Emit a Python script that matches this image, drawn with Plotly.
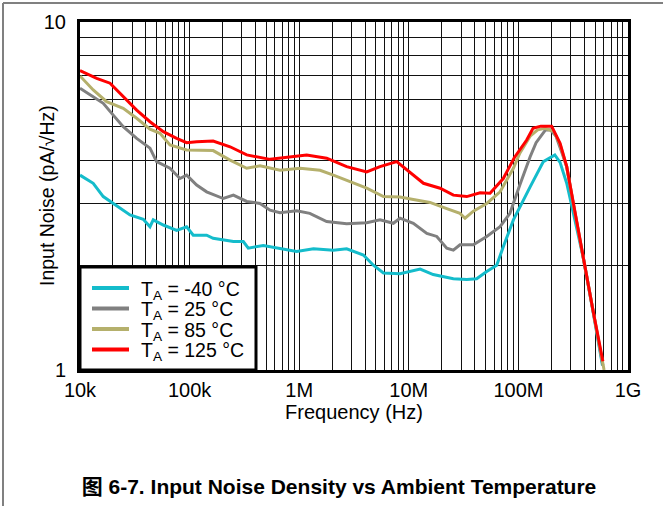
import plotly.graph_objects as go

# Input noise density vs frequency at four ambient temperatures
freq_m40 = [1.0e4, 1.32e4, 1.63e4, 2.01e4, 2.86e4, 3.78e4, 4.35e4, 4.66e4, 5.76e4, 7.62e4,
            9.4e4, 1.08e5, 1.43e5, 1.64e5, 2.51e5, 3.09e5, 3.43e5, 4.71e5, 6.68e5, 9.48e5,
            1.35e6, 2.05e6, 2.71e6, 3.85e6, 4.75e6, 5.87e6, 8.32e6, 1.27e7, 1.67e7, 2.55e7,
            3.38e7, 4.16e7, 5.14e7, 6.34e7, 7.28e7, 9.0e7, 1.28e8, 1.69e8, 2.15e8, 2.4e8,
            2.76e8, 3.4e8, 3.91e8, 4.8e8, 5.85e8]
noise_m40 = [3.63, 3.44, 3.15, 3.01, 2.79, 2.71, 2.58, 2.70, 2.61, 2.52,
             2.58, 2.44, 2.44, 2.39, 2.34, 2.34, 2.24, 2.28, 2.24, 2.19,
             2.23, 2.21, 2.23, 2.14, 2.00, 1.90, 1.89, 1.95, 1.88, 1.83,
             1.82, 1.83, 1.92, 2.00, 2.26, 2.70, 3.36, 3.97, 4.15, 3.95,
             3.44, 2.58, 2.10, 1.47, 1.03]

freq_25 = [1.0e4, 1.32e4, 1.63e4, 2.01e4, 2.48e4, 3.29e4, 4.35e4, 5.0e4, 6.62e4, 8.17e4,
           9.4e4, 1.16e5, 1.43e5, 2.03e5, 2.51e5, 3.32e5, 4.39e5, 5.42e5, 6.68e5, 9.48e5,
           1.25e6, 1.78e6, 2.71e6, 4.13e6, 5.46e6, 7.23e6, 8.32e6, 1.1e7, 1.46e7, 1.8e7,
           2.22e7, 2.55e7, 2.93e7, 3.88e7, 5.14e7, 6.8e7, 8.37e7, 1.03e8, 1.28e8, 1.45e8,
           1.76e8, 1.95e8, 2.2e8, 2.5e8, 2.76e8, 3.17e8, 3.91e8, 4.8e8, 5.9e8]
noise_25 = [6.45, 6.10, 5.84, 5.40, 5.00, 4.63, 4.34, 3.97, 3.80, 3.55,
            3.63, 3.40, 3.25, 3.11, 3.18, 3.05, 3.01, 2.88, 2.83, 2.87,
            2.82, 2.67, 2.63, 2.65, 2.70, 2.64, 2.73, 2.64, 2.47, 2.42,
            2.24, 2.21, 2.29, 2.29, 2.42, 2.58, 2.82, 3.40, 4.10, 4.50,
            4.89, 4.90, 4.70, 4.20, 3.84, 3.00, 2.12, 1.48, 1.03]

freq_85 = [1.0e4, 1.32e4, 1.75e4, 2.48e4, 3.29e4, 4.35e4, 5.37e4, 6.62e4, 9.4e4, 1.24e5,
           1.64e5, 2.34e5, 3.32e5, 4.39e5, 6.68e5, 1.02e6, 1.55e6, 2.05e6, 3.12e6, 4.13e6,
           5.87e6, 8.32e6, 1.1e7, 1.56e7, 2.22e7, 2.93e7, 3.26e7, 3.88e7, 5.14e7, 6.8e7,
           9.0e7, 1.03e8, 1.28e8, 1.5e8, 1.75e8, 2.1e8, 2.4e8, 2.76e8, 3.17e8, 3.91e8,
           4.8e8, 6.05e8]
noise_85 = [7.00, 6.38, 5.90, 5.65, 5.29, 4.92, 4.79, 4.43, 4.29, 4.29,
            4.27, 4.01, 3.80, 3.86, 3.75, 3.80, 3.75, 3.63, 3.44, 3.33,
            3.15, 3.14, 3.09, 3.03, 2.91, 2.82, 2.73, 2.86, 3.01, 3.25,
            3.80, 4.20, 4.70, 4.90, 4.95, 4.85, 4.45, 3.84, 3.00, 2.12,
            1.48, 1.00]

freq_125 = [1.0e4, 1.42e4, 1.88e4, 2.48e4, 3.29e4, 4.35e4, 5.76e4, 7.62e4, 9.4e4, 1.16e5,
            1.64e5, 2.34e5, 3.32e5, 5.42e5, 8.24e5, 1.17e6, 1.78e6, 2.71e6, 4.13e6, 5.46e6,
            7.76e6, 9.57e6, 1.36e7, 1.93e7, 2.55e7, 3.38e7, 4.47e7, 5.51e7, 7.28e7, 9.2e7,
            1.19e8, 1.36e8, 1.6e8, 2.01e8, 2.4e8, 2.76e8, 3.17e8, 3.91e8, 4.8e8, 5.9e8]
noise_125 = [7.25, 6.89, 6.67, 6.10, 5.58, 5.17, 4.84, 4.63, 4.50, 4.53,
             4.55, 4.38, 4.15, 4.03, 4.10, 4.15, 4.06, 3.84, 3.71, 3.84,
             3.97, 3.76, 3.44, 3.33, 3.18, 3.15, 3.23, 3.22, 3.55, 4.08,
             4.58, 4.95, 5.02, 5.02, 4.48, 3.84, 3.01, 2.12, 1.48, 1.06]

series_names = ["T<sub>A</sub> = -40 °C", "T<sub>A</sub> = 25 °C",
                "T<sub>A</sub> = 85 °C", "T<sub>A</sub> = 125 °C"]
series_colors = ["#14BCCB", "#808080", "#B5B06C", "#FF0000"]

x_tick_labels = ["10k", "100k", "1M", "10M", "100M", "1G"]
y_tick_labels = ["1", "10"]

FONT = "Liberation Sans, Arial, Noto Sans CJK SC, sans-serif"

# Plot-area geometry in pixels (used for paper-coordinate placement)
W, H = 663, 506
L, R, T, B = 80, 628, 22, 370
PW, PH = R - L, B - T


def px(x):
    return (x - L) / PW


def py(y):
    return (B - y) / PH


fig = go.Figure()
for fx, fy, name, color in zip([freq_m40, freq_25, freq_85, freq_125],
                               [noise_m40, noise_25, noise_85, noise_125],
                               series_names, series_colors):
    fig.add_trace(go.Scatter(x=fx, y=fy, mode="lines", name=name,
                             line=dict(color=color, width=3)))

# Labelled decades plus a gridline at every 2..9 multiple
x_major = [10 ** k for k in range(4, 10)]
x_minor = [m * 10 ** k for k in range(4, 9) for m in range(2, 10)]
y_major = [1, 10]
y_minor = list(range(2, 10))

grid_color = "#111111"
axis_common = dict(
    type="log", showline=True, linewidth=3, linecolor="black", mirror=True,
    showgrid=True, gridcolor=grid_color, gridwidth=1, ticks="", zeroline=False,
    tickfont=dict(family=FONT, size=20, color="black"),
)

fig.update_xaxes(range=[4, 9], tickmode="array", tickvals=x_major, ticktext=x_tick_labels,
                 minor=dict(tickmode="array", tickvals=x_minor, showgrid=True,
                            gridcolor=grid_color, gridwidth=1, ticks=""),
                 title=dict(text="Frequency (Hz)", standoff=0,
                            font=dict(family=FONT, size=20, color="black")),
                 ticklabelstandoff=0, **axis_common)
fig.update_yaxes(range=[0, 1], tickmode="array", tickvals=y_major, ticktext=y_tick_labels,
                 minor=dict(tickmode="array", tickvals=y_minor, showgrid=True,
                            gridcolor=grid_color, gridwidth=1, ticks=""),
                 ticklabelstandoff=7, **axis_common)

shapes = [
    # outer frame lines (top and left edge)
    dict(type="line", xref="paper", yref="paper", x0=px(3), x1=px(W), y0=py(3), y1=py(3),
         line=dict(color="#808080", width=2)),
    dict(type="line", xref="paper", yref="paper", x0=px(3), x1=px(3), y0=py(3), y1=py(H),
         line=dict(color="#808080", width=2)),
    # legend box
    dict(type="rect", xref="paper", yref="paper", x0=px(L), x1=px(256), y0=py(B), y1=py(267),
         fillcolor="white", line=dict(color="black", width=3), layer="above"),
]

annotations = [
    dict(text="Input Noise (pA/√Hz)", xref="paper", yref="paper", x=px(47), y=py(196),
         xanchor="center", yanchor="middle", textangle=-90, showarrow=False,
         font=dict(family=FONT, size=19.5, color="black")),
]

legend_rows = [288, 308.5, 329, 349.5]
for row, name, color in zip(legend_rows, series_names, series_colors):
    shapes.append(dict(type="line", xref="paper", yref="paper", x0=px(92), x1=px(129),
                       y0=py(row), y1=py(row), line=dict(color=color, width=4),
                       layer="above"))
    annotations.append(dict(text=name, xref="paper", yref="paper", x=px(139), y=py(row + 2),
                            xanchor="left", yanchor="middle", showarrow=False,
                            font=dict(family=FONT, size=19.5, color="black")))

fig.update_layout(
    width=W, height=H,
    margin=dict(l=L, r=W - R, t=T, b=H - B),
    paper_bgcolor="white", plot_bgcolor="white",
    showlegend=False,
    shapes=shapes, annotations=annotations,
    title=dict(text="图 6-7. Input Noise Density vs Ambient Temperature",
               x=339 / W, xanchor="center", y=1 - 487 / H, yanchor="middle",
               font=dict(family=FONT, size=21, color="black", weight="bold")),
)

fig.write_html("out.html")
